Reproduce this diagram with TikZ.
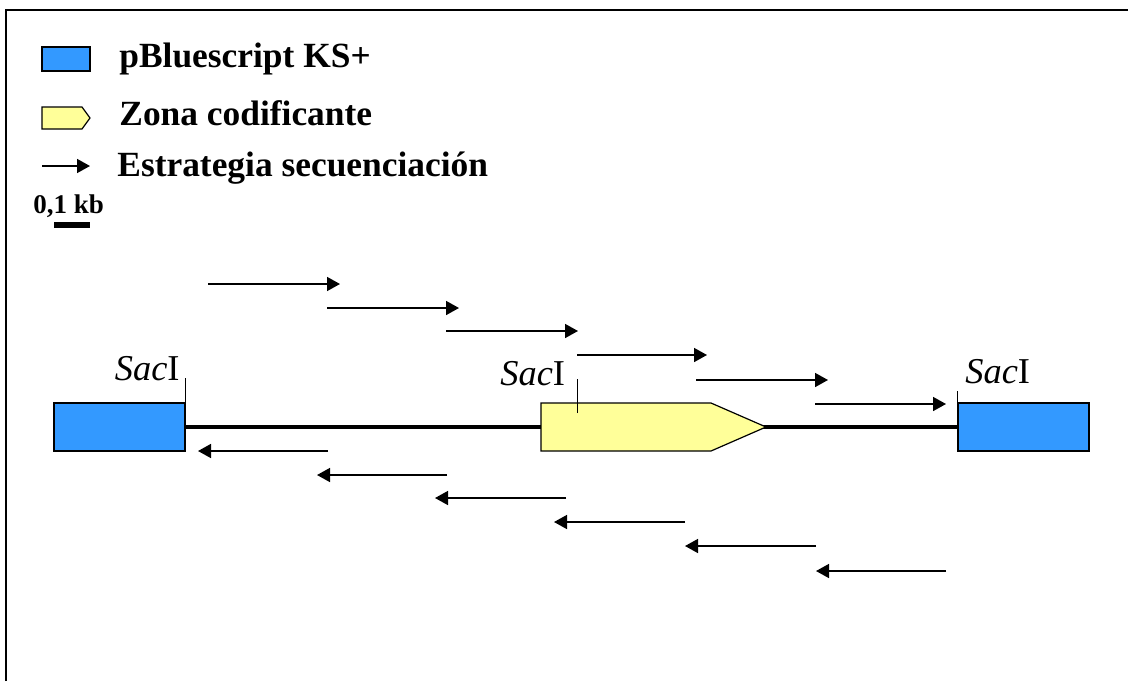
\documentclass[tikz,border=0pt]{standalone}
\usepackage{fontspec}
\setmainfont{Liberation Serif}
\usepackage{tikz}
\usetikzlibrary{arrows.meta,positioning}
\definecolor{vecBlue}{HTML}{3399FF}
\definecolor{cdsYellow}{HTML}{FFFF99}

\begin{document}
\begin{tikzpicture}[x=0.5pt,y=-0.5pt,
  vector/.style={draw, line width=0.6pt, fill=vecBlue, minimum width=65.5pt, minimum height=24pt, inner sep=0pt},
  legtext/.style={anchor=base west, inner sep=0pt, font=\fontsize{17.7}{20}\selectfont\bfseries},
  site/.style={inner sep=0pt, font=\fontsize{18.2}{21}\selectfont},
  seq/.style={-{Triangle[length=6.5pt,width=7pt]}, line width=0.8pt},
  tick/.style={line width=0.5pt}
]
\useasboundingbox (0,0) rectangle (1128,681);
% frame (left and top only)
\draw[line width=1pt] (6,681) -- (6,10) -- (1128,10);
% legend
\node[vector, minimum width=24pt, minimum height=12pt, fill=vecBlue] (legvec) at (66,59) {};
\node[legtext] (legvect) at (119,67) {pBluescript KS+};
\draw[line width=0.6pt, fill=cdsYellow] (42,107) -- (82,107) -- (90,118) -- (82,129) -- (42,129) -- cycle;
\node[legtext] (legcds) at (119,125) {Zona codificante};
\coordinate (legsa) at (42,166);
\coordinate (legsb) at (90,166);
\draw[seq] (legsa) -- (legsb);
\node[legtext] (legseq) at (117,176) {Estrategia secuenciación};
\node[legtext, font=\fontsize{13.5}{16}\selectfont\bfseries] (scale) at (33,213) {0,1 kb};
\fill (54,222) rectangle (90,228);
% construct
\node[vector] (lvec) at (119.5,427) {};
\node[vector] (rvec) at (1023.5,427) {};
\draw[line width=2pt] (lvec.east) -- (rvec.west);
\draw[line width=0.6pt, fill=cdsYellow] (541,403) -- (711,403) -- (766,427) -- (711,451) -- (541,451) -- cycle;
% SacI sites
\node[site, anchor=base east] (sac1) at (180,380) {\textit{Sac}I};
\node[site, anchor=base west] (sac2) at (500,385) {\textit{Sac}I};
\node[site, anchor=base west] (sac3) at (965,383) {\textit{Sac}I};
\draw[tick] (lvec.north east) -- ++(0,-24);
\draw[tick] (577,413) -- (577,379);
\draw[tick] (rvec.north west) -- ++(0,-11);
% sequencing reads, forward
\foreach \i/\xa/\xb/\y in {1/208/340/284, 2/327/459/308, 3/446/578/331, 4/577/707/355, 5/696/828/380, 6/815/946/404} {
  \coordinate (f\i a) at (\xa,\y);
  \coordinate (f\i b) at (\xb,\y);
  \draw[seq] (f\i a) -- (f\i b);
}
% sequencing reads, reverse
\foreach \i/\xa/\xb/\y in {1/328/198/451, 2/447/317/475, 3/566/435/498, 4/685/554/522, 5/816/685/546, 6/946/816/571} {
  \coordinate (r\i a) at (\xa,\y);
  \coordinate (r\i b) at (\xb,\y);
  \draw[seq] (r\i a) -- (r\i b);
}
\end{tikzpicture}
\end{document}
